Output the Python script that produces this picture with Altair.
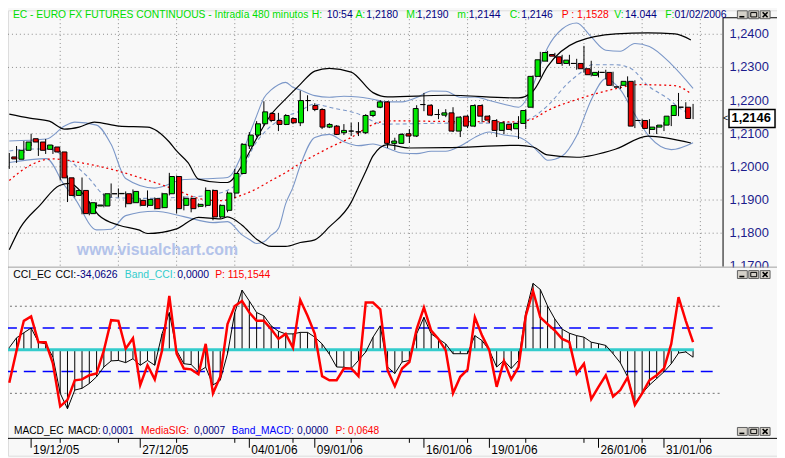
import altair as alt
import pandas as pd

OFF = 8  # page margin of the html page


def px(v):
    return v - OFF


# ---------------- data ----------------
bars = list(range(95))
opens = [1.2030, 1.2023, 1.2050, 1.2085, 1.2075, 1.2053, 1.2060, 1.2045, 1.1967, 1.1914,
         1.1929, 1.1859, 1.1882, 1.1882, 1.1919, 1.1919, 1.1919, 1.1892, 1.1899, 1.1884,
         1.1904, 1.1877, 1.1919, 1.1971, 1.1884, 1.1905, 1.1881, 1.1884, 1.1929, 1.1849,
         1.1869, 1.1921, 1.1980, 1.2063, 1.2096, 1.2130, 1.2161, 1.2140, 1.2128, 1.2146,
         1.2133, 1.2200, 1.2185, 1.2173, 1.2120, 1.2123, 1.2103, 1.2108, 1.2106, 1.2103,
         1.2155, 1.2180, 1.2196, 1.2071, 1.2071, 1.2100, 1.2093, 1.2188, 1.2186, 1.2158,
         1.2156, 1.2163, 1.2108, 1.2153, 1.2123, 1.2185, 1.2153, 1.2140, 1.2110, 1.2128,
         1.2115, 1.2131, 1.2180, 1.2273, 1.2319, 1.2339, 1.2332, 1.2312, 1.2312, 1.2312,
         1.2296, 1.2276, 1.2285, 1.2285, 1.2241, 1.2246, 1.2258, 1.2140, 1.2140, 1.2113,
         1.2120, 1.2126, 1.2155, 1.2180, 1.2180]
closes = [1.2024, 1.2050, 1.2075, 1.2075, 1.2050, 1.2066, 1.2045, 1.1967, 1.1914, 1.1929,
          1.1859, 1.1892, 1.1885, 1.1919, 1.1919, 1.1920, 1.1889, 1.1926, 1.1884, 1.1902,
          1.1874, 1.1919, 1.1971, 1.1874, 1.1905, 1.1874, 1.1887, 1.1929, 1.1849, 1.1884,
          1.1921, 1.1980, 1.2068, 1.2096, 1.2130, 1.2166, 1.2140, 1.2128, 1.2155, 1.2133,
          1.2200, 1.2200, 1.2173, 1.2120, 1.2128, 1.2098, 1.2110, 1.2108, 1.2105, 1.2155,
          1.2168, 1.2196, 1.2071, 1.2078, 1.2098, 1.2093, 1.2176, 1.2188, 1.2156, 1.2158,
          1.2163, 1.2108, 1.2150, 1.2123, 1.2185, 1.2153, 1.2141, 1.2110, 1.2133, 1.2113,
          1.2131, 1.2170, 1.2273, 1.2323, 1.2345, 1.2334, 1.2312, 1.2322, 1.2312, 1.2296,
          1.2278, 1.2285, 1.2285, 1.2246, 1.2241, 1.2258, 1.2123, 1.2140, 1.2116, 1.2120,
          1.2126, 1.2153, 1.2185, 1.2180, 1.2146]
highs = [1.2042, 1.2063, 1.2078, 1.2100, 1.2081, 1.2084, 1.2066, 1.2048, 1.1974, 1.1938,
         1.1968, 1.1896, 1.1893, 1.1920, 1.1950, 1.1935, 1.1926, 1.1932, 1.1905, 1.1929,
         1.1908, 1.1922, 1.1982, 1.1974, 1.1911, 1.1908, 1.1890, 1.1938, 1.1932, 1.1887,
         1.1926, 1.1994, 1.2072, 1.2105, 1.2138, 1.2198, 1.2165, 1.2163, 1.2159, 1.2150,
         1.2230, 1.2216, 1.2192, 1.2177, 1.2132, 1.2126, 1.2129, 1.2133, 1.2135, 1.2159,
         1.2171, 1.2201, 1.2198, 1.2088, 1.2102, 1.2114, 1.2186, 1.2223, 1.2189, 1.2174,
         1.2174, 1.2180, 1.2153, 1.2156, 1.2189, 1.2189, 1.2156, 1.2144, 1.2138, 1.2132,
         1.2153, 1.2174, 1.2276, 1.2347, 1.2350, 1.2344, 1.2338, 1.2338, 1.2326, 1.2365,
         1.2320, 1.2290, 1.2293, 1.2287, 1.2246, 1.2273, 1.2261, 1.2144, 1.2144, 1.2126,
         1.2135, 1.2156, 1.2223, 1.2195, 1.2190]
lows = [1.1994, 1.2012, 1.2042, 1.2063, 1.2033, 1.2039, 1.2039, 1.1959, 1.1894, 1.1908,
        1.1857, 1.1854, 1.1875, 1.1878, 1.1908, 1.1908, 1.1878, 1.1890, 1.1881, 1.1878,
        1.1872, 1.1875, 1.1914, 1.1860, 1.1869, 1.1863, 1.1878, 1.1878, 1.1839, 1.1845,
        1.1863, 1.1905, 1.1977, 1.2054, 1.2090, 1.2123, 1.2135, 1.2108, 1.2126, 1.2129,
        1.2123, 1.2168, 1.2168, 1.2114, 1.2117, 1.2096, 1.2096, 1.2093, 1.2093, 1.2099,
        1.2150, 1.2177, 1.2057, 1.2051, 1.2069, 1.2072, 1.2090, 1.2168, 1.2153, 1.2144,
        1.2150, 1.2105, 1.2090, 1.2117, 1.2120, 1.2135, 1.2132, 1.2090, 1.2099, 1.2108,
        1.2084, 1.2114, 1.2177, 1.2270, 1.2317, 1.2329, 1.2305, 1.2305, 1.2293, 1.2284,
        1.2273, 1.2270, 1.2264, 1.2243, 1.2235, 1.2210, 1.2117, 1.2120, 1.2099, 1.2099,
        1.2108, 1.2123, 1.2153, 1.2162, 1.2144]

cci = [10, 55, 78, 100, 35, 27, -33, -200, -271, -185,
       -177, -155, -124, -79, -51, -49, -59, -41, -71, -49,
       -71, 73, 171, -3, -64, -68, -101, -80, -162, -140,
       -18, 171, 274, 224, 171, 156, 110, 85, 73, 73,
       80, 80, 58, 27, -20, -79, -80, -86, -49, -10,
       58, 110, -79, -109, -56, -49, 73, 149, 73, 50,
       27, -18, -18, -18, 65, 42, -3, -79, -49, -86,
       -49, 171, 305, 277, 201, 141, 95, 76, 65, 58,
       35, 28, 20, -18, -60, -124, -245, -200, -162, -132,
       -101, -64, -15, -10, -34]
cci_p = [-151, -3, 133, 153, 35, 35, -64, -260, -230, -140,
         -136, -117, -109, -3, 136, 133, 5, 53, -162, -71,
         -136, -3, 247, -18, -86, -90, -112, 27, -200, -124,
         118, 201, 224, 171, 133, 133, 95, 50, 73, 9,
         229, 156, 73, -121, -140, -140, -86, -86, -121, 217,
         217, 186, -94, -167, -86, -56, 95, 194, 88, 50,
         -3, -200, -124, -91, 149, 65, -3, -170, -51, -136,
         -79, 156, 270, 149, 118, 88, 50, 35, -109, -64,
         -227, -170, -117, -215, -185, -127, -253, -200, -140, -117,
         -86, 27, 242, 133, 35]

# overlay curves: bar position / price
bbo_up_i = [0, 2.8, 5.5, 7.6, 9.6, 11.7, 15.1, 19, 22, 23, 24.6, 26, 29, 30, 32, 34, 36, 38, 40,
            42, 44, 47, 50, 52, 60, 70, 72, 74, 78, 83.4, 87.8, 91.5, 93.7]
bbo_up_p = [1.2159, 1.2147, 1.2138, 1.2114, 1.2120, 1.2135, 1.2123, 1.2120, 1.2075, 1.2048,
            1.2012, 1.1963, 1.1953, 1.1953, 1.2005, 1.2086, 1.2158, 1.2205, 1.2249, 1.2289,
            1.2297, 1.2286, 1.2224, 1.2211, 1.2216, 1.2208, 1.2229, 1.2303, 1.2377, 1.2401,
            1.2404, 1.2401, 1.2383]
bbo_lo_i = [0, 1.5, 4.2, 6.9, 8.3, 10.3, 12.3, 15.1, 17.8, 19, 23, 26, 29, 30, 32, 34, 36, 38,
            40, 42, 44, 47, 48, 49, 50, 52, 55, 60, 70, 72, 74, 78, 83.4, 87.8, 93.7]
bbo_lo_p = [1.1750, 1.1816, 1.1884, 1.1944, 1.1950, 1.1914, 1.1854, 1.1824, 1.1810, 1.1799,
            1.1813, 1.1848, 1.1843, 1.1849, 1.1824, 1.1782, 1.1760, 1.1760, 1.1772, 1.1780,
            1.1819, 1.1893, 1.1939, 1.1986, 1.2033, 1.2067, 1.2057, 1.2058, 1.2065, 1.2060,
            1.2036, 1.2029, 1.2054, 1.2093, 1.2072]
ma_i = [0, 2.8, 5.9, 10, 14.7, 19, 23, 26, 29, 32, 34, 36, 38, 40, 42, 44, 47, 50, 52, 60,
        70, 72, 74, 78, 83.4, 86.5, 91.5, 93.7]
ma_p = [1.1959, 1.2004, 1.2024, 1.2012, 1.1989, 1.1960, 1.1930, 1.1905, 1.1898, 1.1915,
        1.1934, 1.1959, 1.1983, 1.2011, 1.2035, 1.2058, 1.2089, 1.2128, 1.2139, 1.2137,
        1.2136, 1.2145, 1.2170, 1.2203, 1.2236, 1.2248, 1.2245, 1.2221]
mid_i = [0, 2.8, 5.5, 7.8, 10.6, 13.7, 19.1, 23.2, 27.3, 30.7, 33.8, 37.5, 39.9, 41.9, 44.6,
         47.7, 51.4, 61.3, 69.5, 72.2, 74.2, 76.6, 78.7, 80.1, 83.4, 85.5, 87.8, 90.6, 92.3, 93.7]
mid_p = [1.2048, 1.2054, 1.2054, 1.2027, 1.1974, 1.1908, 1.1905, 1.1908, 1.1914, 1.1938,
         1.2069, 1.2147, 1.2168, 1.2189, 1.2177, 1.2162, 1.2129, 1.2132, 1.2132, 1.2153,
         1.2189, 1.2248, 1.2287, 1.2308, 1.2308, 1.2296, 1.2245, 1.2205, 1.2175, 1.2159]
bbi_i = [0, 5.1, 7.6, 9, 12, 14, 16, 20, 24, 28, 30, 32, 33, 34, 35, 36, 37, 38, 39, 40,
         42, 44, 46, 48, 50, 52, 54, 56, 58, 60, 62, 64, 66, 68, 70, 72, 73, 74, 76, 78,
         80, 82, 84, 86, 88, 91, 94]
bbi_up_p = [1.2078, 1.2084, 1.2123, 1.2135, 1.2126, 1.2068, 1.1965, 1.1936, 1.1962, 1.1965,
            1.1968, 1.2039, 1.2097, 1.2154, 1.2208, 1.2232, 1.2248, 1.2255, 1.2240, 1.2232,
            1.2215, 1.2210, 1.2213, 1.2211, 1.2204, 1.2196, 1.2196, 1.2209, 1.2229, 1.2228,
            1.2210, 1.2211, 1.2200, 1.2189, 1.2180, 1.2245, 1.2307, 1.2359, 1.2416, 1.2434,
            1.2392, 1.2352, 1.2349, 1.2372, 1.2363, 1.2310, 1.2237]
bbi_lo_p = [1.2013, 1.2025, 1.1944, 1.1905, 1.1810, 1.1812, 1.1853, 1.1866, 1.1850, 1.1832,
            1.1835, 1.1795, 1.1781, 1.1769, 1.1774, 1.1794, 1.1814, 1.1889, 1.1939, 1.2004,
            1.2089, 1.2098, 1.2076, 1.2064, 1.2069, 1.2056, 1.2042, 1.2040, 1.2047, 1.2047,
            1.2063, 1.2089, 1.2105, 1.2096, 1.2090, 1.2061, 1.2039, 1.2020, 1.2033, 1.2094,
            1.2202, 1.2266, 1.2233, 1.2158, 1.2091, 1.2052, 1.2073]

price_ticks = [1.24, 1.23, 1.22, 1.21, 1.20, 1.19, 1.18, 1.17]
price_labels = ["1,2400", "1,2300", "1,2200", "1,2100", "1,2000", "1,1900", "1,1800", "1,1700"]
grid_bars = [7, 15, 23, 31, 39, 47, 55, 63, 71, 79, 87, 95]
date_bars = [3, 18, 33, 42, 57, 66, 81, 90]
date_labels = ["19/12/05", "27/12/05", "04/01/06", "09/01/06", "16/01/06", "19/01/06",
               "26/01/06", "31/01/06"]
cci_outer = [200, -200]
cci_inner = [100, -100]

GREEN = "#00DD00"
NAVY = "#000080"
RED = "#FF0000"
CYAN = "#33CCCC"
BLUE = "#0000FF"
BLK = "#000000"

top_title = [("EC - EURO FX FUTURES CONTINUOUS - Intradía 480 minutos", GREEN),
             ("H:", GREEN), ("10:54", NAVY), ("A:", GREEN), ("1,2180", NAVY),
             ("M:", GREEN), ("1,2190", NAVY), ("m:", GREEN), ("1,2144", NAVY),
             ("C:", GREEN), ("1,2146", NAVY), ("P : 1,1528", RED), ("V:", GREEN),
             ("14.044", NAVY), ("F:", GREEN), ("01/02/2006", NAVY)]
cci_title = [("CCI_EC", BLK), ("CCI:", BLK), ("-34,0626", NAVY), ("Band_CCI:", CYAN),
             ("0,0000", NAVY), ("P: 115,1544", RED)]
macd_title = [("MACD_EC", BLK), ("MACD:", BLK), ("0,0001", NAVY), ("MediaSIG:", RED),
              ("0,0007", NAVY), ("Band_MACD:", BLUE), ("0,0000", NAVY), ("P: 0,0648", RED)]

# layout (page pixels)
top_x = [13, 315, 330, 359, 370, 410.5, 421, 462, 473.5, 515, 526.5, 567.5, 620.5, 631.5, 672, 681.5]
cci_x = [13.3, 56, 77.3, 126, 179, 217.3]
macd_x = [14, 68.5, 103.5, 142.5, 196, 234, 300, 339]

FONT = "Liberation Sans"

XS = alt.Scale(domain=[0, 94], range=[px(9.3), px(700.2)])
PY = alt.Scale(domain=[1.17, 1.24], range=[px(266.7), px(32.2)])
CY = alt.Scale(domain=[-300, 300], range=[px(417), px(285)])

ONE = pd.DataFrame({"a": [0]})
layers = []

# ---------- price panel ----------
grid_h = pd.DataFrame({"v": price_ticks[:-1]})
layers.append(alt.Chart(grid_h).mark_rule(color="#8C8C8C", strokeDash=[1, 3], strokeWidth=1).encode(
    y=alt.Y("v:Q", scale=PY, axis=None), x=alt.value(0), x2=alt.value(px(730))))
grid_v = pd.DataFrame({"g": grid_bars})
layers.append(alt.Chart(grid_v).mark_rule(color="#8C8C8C", strokeDash=[1, 3], strokeWidth=1).encode(
    x=alt.X("g:Q", scale=XS, axis=None), y=alt.value(px(17)), y2=alt.value(px(267))))

# watermark
wm = pd.DataFrame({"t": ["www.visualchart.com"]})
layers.append(alt.Chart(wm).mark_text(font=FONT, fontSize=16, fontWeight="bold", color="#B3C3EA",
                                      align="center", baseline="middle").encode(
    x=alt.value(px(159)), y=alt.value(px(250)), text="t:N"))


def curve(xs, ys, **kw):
    df = pd.DataFrame({"i": xs, "p": ys})
    return alt.Chart(df).mark_line(interpolate="monotone", **kw).encode(
        x=alt.X("i:Q", scale=XS, axis=None), y=alt.Y("p:Q", scale=PY, axis=None))


layers.append(curve(bbi_i, bbi_up_p, color="#7B97C8", strokeWidth=1.1))
layers.append(curve(bbi_i, bbi_lo_p, color="#7B97C8", strokeWidth=1.1))
layers.append(curve(mid_i, mid_p, color="#7B97C8", strokeWidth=1.1, strokeDash=[4, 3]))
layers.append(curve(ma_i, ma_p, color="#EE0000", strokeWidth=1.3, strokeDash=[2, 3]))
layers.append(curve(bbo_up_i, bbo_up_p, color="#000000", strokeWidth=1.2))
layers.append(curve(bbo_lo_i, bbo_lo_p, color="#000000", strokeWidth=1.2))

cdf = pd.DataFrame({"i": bars, "open": opens, "high": highs, "low": lows, "close": closes})
layers.append(alt.Chart(cdf).mark_rule(color="black", strokeWidth=1).encode(
    x=alt.X("i:Q", scale=XS, axis=None), y=alt.Y("low:Q", scale=PY, axis=None), y2="high:Q"))
layers.append(alt.Chart(cdf).transform_filter("datum.close >= datum.open").mark_bar(
    width=5, fill="#00E800", stroke="black", strokeWidth=1).encode(
    x=alt.X("i:Q", scale=XS, axis=None), y=alt.Y("open:Q", scale=PY, axis=None), y2="close:Q"))
layers.append(alt.Chart(cdf).transform_filter("datum.close < datum.open").mark_bar(
    width=5, fill="#EE0000", stroke="black", strokeWidth=1).encode(
    x=alt.X("i:Q", scale=XS, axis=None), y=alt.Y("open:Q", scale=PY, axis=None), y2="close:Q"))

# price axis box
layers.append(alt.Chart(ONE).mark_rule(color="black", strokeWidth=1).encode(
    x=alt.value(px(730.5)), y=alt.value(px(15.5)), y2=alt.value(px(267))))
layers.append(alt.Chart(ONE).mark_rule(color="black", strokeWidth=1).encode(
    x=alt.value(px(730.5)), x2=alt.value(px(785)), y=alt.value(px(15.5))))
plab = pd.DataFrame({"v": price_ticks, "t": price_labels})
layers.append(alt.Chart(plab).mark_text(font=FONT, fontSize=13, color="#1C1C8C", align="left",
                                        baseline="middle").encode(
    y=alt.Y("v:Q", scale=PY, axis=None), x=alt.value(px(737)), text="t:N"))

# last price box
last = pd.DataFrame({"c": [closes[-1]], "t": ["1,2146"]})
layers.append(alt.Chart(last).transform_calculate(lo="datum.c - 0.0027", hi="datum.c + 0.0027").mark_rect(
    fill="white", stroke="black", strokeWidth=1.5).encode(
    y=alt.Y("lo:Q", scale=PY, axis=None), y2="hi:Q", x=alt.value(px(736.5)), x2=alt.value(px(783))))
layers.append(alt.Chart(last).mark_text(font=FONT, fontSize=13, fontWeight="bold", color="black",
                                        align="left", baseline="middle").encode(
    y=alt.Y("c:Q", scale=PY, axis=None), x=alt.value(px(739)), text="t:N"))
layers.append(alt.Chart(last).mark_text(font=FONT, fontSize=9, color="black", align="center",
                                        baseline="middle").encode(
    y=alt.Y("c:Q", scale=PY, axis=None), x=alt.value(px(733)), text=alt.value("<")))

# panel separator (covers the cut label)
layers.append(alt.Chart(ONE).mark_rect(fill="#F8F8F8").encode(
    x=alt.value(px(731)), x2=alt.value(px(785)), y=alt.value(px(268)), y2=alt.value(px(285))))
layers.append(alt.Chart(ONE).mark_rule(color="#A0A0A0", strokeWidth=1).encode(
    x=alt.value(0), x2=alt.value(px(785)), y=alt.value(px(267.5))))

# ---------- CCI panel ----------
layers.append(alt.Chart(pd.DataFrame({"v": cci_outer})).mark_rule(
    color="#707070", strokeDash=[2, 3], strokeWidth=1).encode(
    y=alt.Y("v:Q", scale=CY, axis=None), x=alt.value(px(5)), x2=alt.value(px(727))))
layers.append(alt.Chart(pd.DataFrame({"v": cci_inner})).mark_rule(
    color=BLUE, strokeDash=[12, 7], strokeWidth=1.4).encode(
    y=alt.Y("v:Q", scale=CY, axis=None), x=alt.value(px(5)), x2=alt.value(px(727))))
ccidf = pd.DataFrame({"i": bars, "cci": cci, "p": cci_p})
layers.append(alt.Chart(ccidf).transform_calculate(zero="0").mark_rule(color="black", strokeWidth=1).encode(
    x=alt.X("i:Q", scale=XS, axis=None), y=alt.Y("cci:Q", scale=CY, axis=None), y2="zero:Q"))
layers.append(alt.Chart(pd.DataFrame({"v": [0]})).mark_rule(color=CYAN, strokeWidth=3).encode(
    y=alt.Y("v:Q", scale=CY, axis=None), x=alt.value(px(5)), x2=alt.value(px(701))))
layers.append(alt.Chart(ccidf).mark_line(color="black", strokeWidth=1).encode(
    x=alt.X("i:Q", scale=XS, axis=None), y=alt.Y("cci:Q", scale=CY, axis=None)))
layers.append(alt.Chart(ccidf).mark_line(color="#FF0000", strokeWidth=2.5).encode(
    x=alt.X("i:Q", scale=XS, axis=None), y=alt.Y("p:Q", scale=CY, axis=None)))

# ---------- date axis ----------
layers.append(alt.Chart(ONE).mark_rule(color="black", strokeWidth=1).encode(
    x=alt.value(0), x2=alt.value(px(785)), y=alt.value(px(440.5))))
layers.append(alt.Chart(pd.DataFrame({"g": grid_bars})).mark_rule(color="black", strokeWidth=1).encode(
    x=alt.X("g:Q", scale=XS, axis=None), y=alt.value(px(440.5)), y2=alt.value(px(445))))
ddf = pd.DataFrame({"i": date_bars, "t": date_labels})
layers.append(alt.Chart(ddf).mark_rule(color="black", strokeWidth=1).encode(
    x=alt.X("i:Q", scale=XS, axis=None), y=alt.value(px(440.5)), y2=alt.value(px(450))))
layers.append(alt.Chart(ddf).mark_text(font=FONT, fontSize=12, color="black", align="left",
                                       baseline="middle", dx=2).encode(
    x=alt.X("i:Q", scale=XS, axis=None), y=alt.value(px(452.5)), text="t:N"))


# ---------- titles ----------
def title_layer(items, xs, ypage, size):
    df = pd.DataFrame({"t": [a for a, _ in items], "c": [b for _, b in items],
                       "x": [px(v) for v in xs], "y": [px(ypage)] * len(items)})
    return alt.Chart(df).mark_text(font=FONT, fontSize=size, align="left", baseline="middle").encode(
        x=alt.X("x:Q", scale=None, axis=None), y=alt.Y("y:Q", scale=None, axis=None),
        text="t:N", color=alt.Color("c:N", scale=None, legend=None))


layers.append(title_layer(top_title[:1], top_x[:1], 12.5, 10.4))
layers.append(title_layer(top_title[1:], top_x[1:], 12.5, 10.5))
layers.append(title_layer(cci_title, cci_x, 275, 10.5))
layers.append(title_layer(macd_title, macd_x, 432.7, 10.3))


# window buttons drawn with rules and rects
def buttons(ytop):
    boxes = pd.DataFrame([{"x": px(x0), "x2": px(x0 + 10), "y": px(ytop), "y2": px(ytop + 8)}
                          for x0 in [745, 756.5, 768]])
    out = [alt.Chart(boxes).mark_rect(fill="#D4D0C8", stroke="#606060", strokeWidth=1).encode(
        x=alt.X("x:Q", scale=None, axis=None), x2="x2:Q",
        y=alt.Y("y:Q", scale=None, axis=None), y2="y2:Q")]
    frame = pd.DataFrame([{"x": px(758.5), "x2": px(764.5), "y": px(ytop + 1.8), "y2": px(ytop + 6.2)}])
    out.append(alt.Chart(frame).mark_rect(fill="#D4D0C8", stroke="black", strokeWidth=1).encode(
        x=alt.X("x:Q", scale=None, axis=None), x2="x2:Q",
        y=alt.Y("y:Q", scale=None, axis=None), y2="y2:Q"))
    strokes = pd.DataFrame([
        {"x": px(747), "x2": px(752), "y": px(ytop + 6), "y2": px(ytop + 6)},
        {"x": px(770.5), "x2": px(775.5), "y": px(ytop + 1.5), "y2": px(ytop + 6.5)},
        {"x": px(770.5), "x2": px(775.5), "y": px(ytop + 6.5), "y2": px(ytop + 1.5)},
    ])
    out.append(alt.Chart(strokes).mark_rule(color="black", strokeWidth=1.6).encode(
        x=alt.X("x:Q", scale=None, axis=None), x2="x2:Q",
        y=alt.Y("y:Q", scale=None, axis=None), y2="y2:Q"))
    return out


layers += buttons(8.5)
layers += buttons(271)
layers += buttons(429.5)

chart = alt.layer(*layers).resolve_scale(x="independent", y="independent", color="independent").properties(
    width=777, height=450, autosize=alt.AutoSizeParams(type="none"), padding=0
).configure_view(strokeWidth=0).configure(background="#F8F8F8")

chart.save("out.html", embed_options={"renderer": "svg", "actions": False})
